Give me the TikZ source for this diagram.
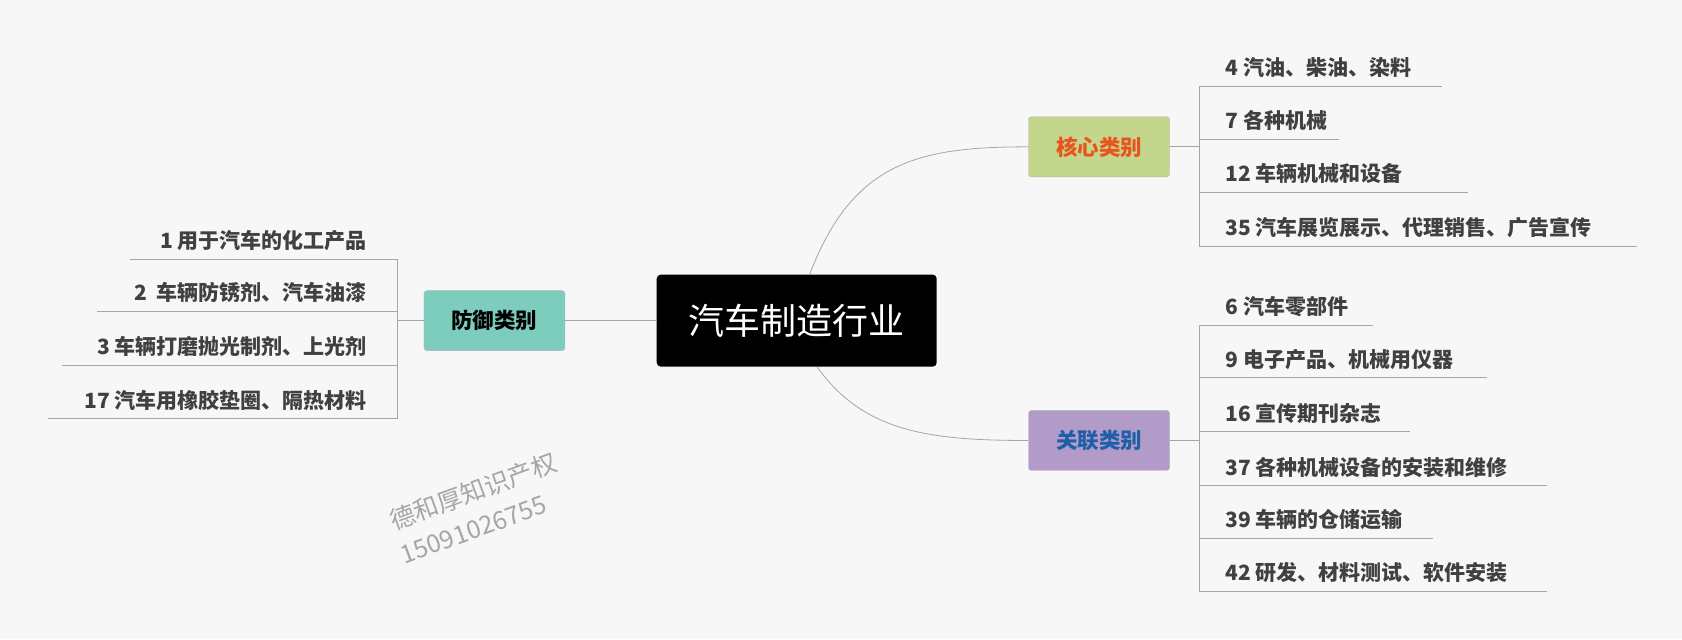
\documentclass[tikz,border=0pt]{standalone}
\usepackage{fontspec}
\setmainfont{Noto Sans CJK SC}
\begin{document}
\begin{tikzpicture}[x=1.0796pt,y=-1.0796pt,
 cat/.style={rounded corners=3pt,draw=gray!60,minimum width=141pt,minimum height=60pt,font=\fontsize{21.5}{24}\selectfont\bfseries},
 leaf/.style={inner sep=0pt,font=\fontsize{21}{23}\selectfont\bfseries,text=black!75},
 ln/.style={draw=gray!70,line width=0.8pt},
 wmk/.style={rotate=20,text=black!35,font=\fontsize{25}{30}\selectfont,inner sep=0pt,anchor=west}]
\fill[black!3] (0,0) rectangle (1558,592);
\useasboundingbox (0,0) rectangle (1558,592);
\node[fill=black,rounded corners=4pt,minimum width=280pt,minimum height=92pt,text=white,font=\fontsize{36}{40}\selectfont] (c) at (738,297) {汽车制造行业};
\node[cat,fill={rgb,255:red,125;green,205;blue,190}] (d) at (458,297) {防御类别};
\node[cat,fill={rgb,255:red,196;green,214;blue,140},text={rgb,255:red,232;green,84;blue,30}] (h) at (1018,136) {核心类别};
\node[cat,fill={rgb,255:red,178;green,155;blue,200},text={rgb,255:red,30;green,95;blue,168}] (g) at (1018,408) {关联类别};
\draw[ln] (d.east) -- (c.west);
\draw[ln] (750,254) .. controls (790,150) and (850,136) .. (h.west);
\draw[ln] (757,340) .. controls (800,400) and (860,408) .. (g.west);
% right top
\coordinate (hb) at (1111,136);
\draw[ln] (h.east) -- (hb);
\draw[ln] (1111,80) -- (1111,228);
\foreach \y/\e/\t [count=\i] in {80/1336/{4 汽油、柴油、染料},129/1240/{7 各种机械},178/1360/{12 车辆机械和设备},228/1516/{35 汽车展览展示、代理销售、广告宣传}}{
 \node[leaf,anchor=base west] (ht\i) at (1135,\y-10) {\t};
 \draw[ln] (1111,\y) -- (\e,\y);}
% right bottom
\coordinate (gb) at (1111,408);
\draw[ln] (g.east) -- (gb);
\draw[ln] (1111,301) -- (1111,548);
\foreach \y/\e/\t [count=\i] in {301/1272/{6 汽车零部件},350/1377/{9 电子产品、机械用仪器},400/1306/{16 宣传期刊杂志},450/1433/{37 各种机械设备的安装和维修},499/1327/{39 车辆的仓储运输},548/1433/{42 研发、材料测试、软件安装}}{
 \node[leaf,anchor=base west] (gt\i) at (1135,\y-10) {\t};
 \draw[ln] (1111,\y) -- (\e,\y);}
% left
\coordinate (db) at (368,297);
\draw[ln] (d.west) -- (db);
\draw[ln] (368,240) -- (368,388);
\foreach \y/\s/\t [count=\i] in {240/120/{1 用于汽车的化工产品},288/90/{2\ \ 车辆防锈剂、汽车油漆},338/57/{3 车辆打磨抛光制剂、上光剂},388/44/{17 汽车用橡胶垫圈、隔热材料}}{
 \node[leaf,anchor=base east] (dt\i) at (340,\y-10) {\t};
 \draw[ln] (\s,\y) -- (368,\y);}
% watermark
\node[wmk] (wm1) at (362,483) {德和厚知识产权};
\node[wmk] (wm2) at (372,515) {15091026755};
\end{tikzpicture}
\end{document}
